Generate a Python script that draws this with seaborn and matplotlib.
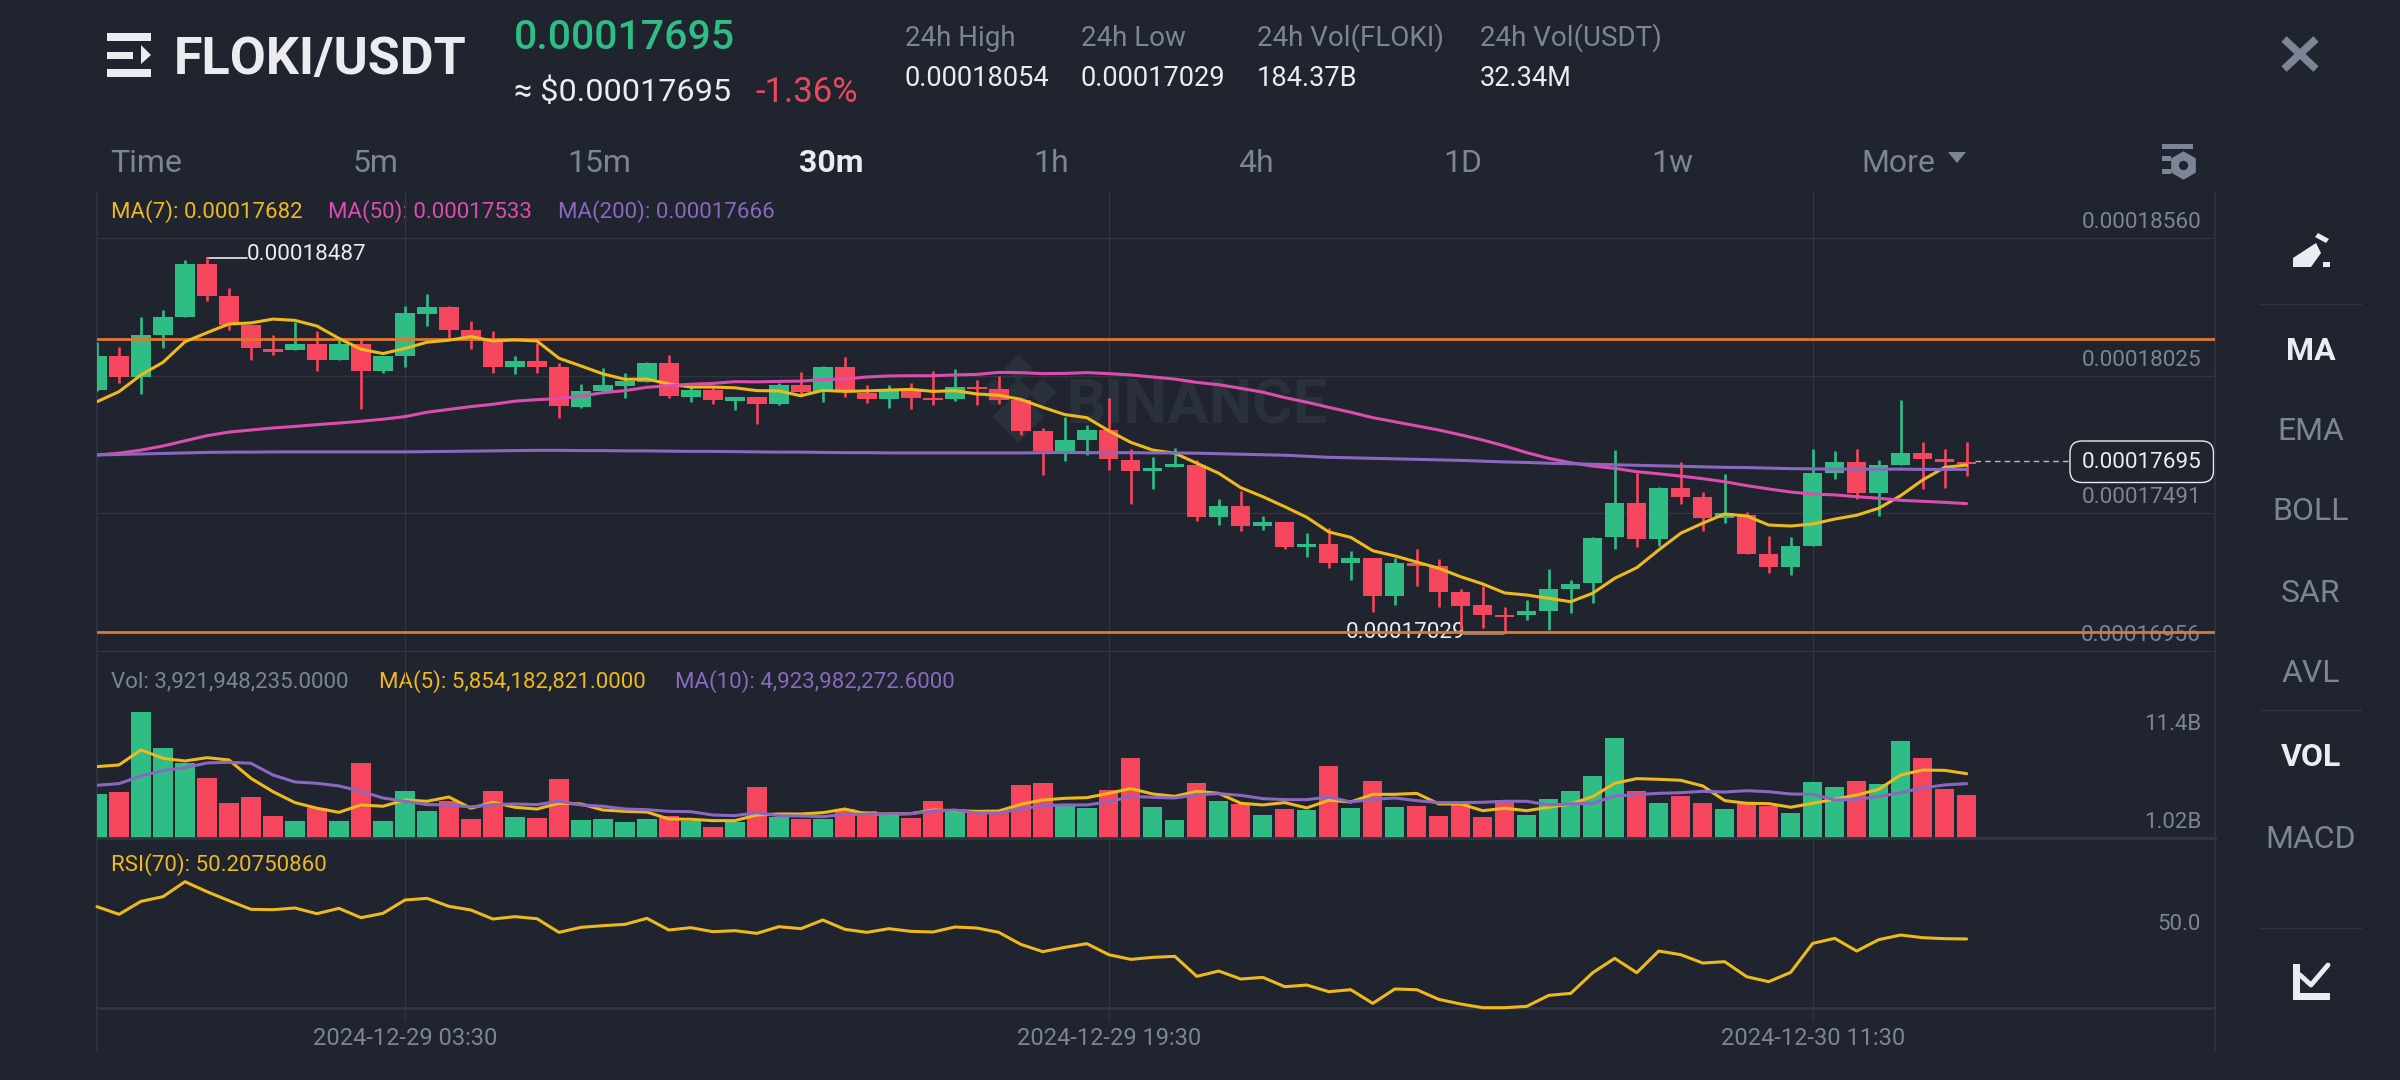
import numpy as np
import matplotlib
matplotlib.use("Agg")
import matplotlib.pyplot as plt
import seaborn as sns
from matplotlib.patches import Polygon, FancyBboxPatch

# prices are kept in units of 1e-8 USDT, volumes in billions
candle_open = [17969,18102,18021,18183,18253,18458,18335,18223,18130,18126,18148,18086,18148,18043,18103,18266,18293,18201,18168,18059,18083,18060,17905,17966,17986,18001,18074,17943,17968,17928,17942,17914,17988,17967,18058,17957,17934,17969,17940,17933,17982,17972,17931,17810,17734,17776,17815,17699,17654,17672,17678,17475,17519,17440,17456,17358,17371,17299,17316,17170,17296,17286,17184,17133,17095,17094,17112,17196,17218,17397,17529,17391,17588,17555,17473,17484,17331,17282,17365,17646,17690,17568,17678,17724,17700,17691]
candle_high = [18157,18138,18254,18280,18474,18487,18365,18223,18183,18235,18200,18164,18170,18103,18296,18341,18297,18238,18200,18100,18153,18073,17992,18056,18034,18077,18105,17982,17985,17942,17943,17995,18038,18063,18098,17989,17988,17995,18044,18050,18008,18025,17940,17822,17866,17832,17937,17739,17710,17743,17698,17546,17578,17480,17458,17413,17432,17345,17316,17316,17351,17313,17196,17208,17125,17154,17273,17231,17400,17736,17646,17591,17689,17572,17642,17497,17403,17397,17740,17734,17739,17698,17931,17766,17740,17767]
candle_low = [17966,17998,17954,18131,18253,18315,18203,18086,18105,18126,18043,18086,17896,18037,18060,18219,18170,18130,18034,18033,18034,17859,17901,17966,17938,18001,17940,17923,17916,17892,17837,17910,17946,17924,17941,17918,17901,17897,17911,17927,17911,17916,17796,17639,17694,17716,17660,17527,17586,17672,17462,17444,17422,17424,17353,17322,17279,17231,17108,17133,17208,17128,17037,17046,17029,17076,17037,17102,17143,17352,17361,17363,17527,17423,17454,17332,17260,17251,17365,17624,17545,17480,17678,17586,17590,17635]
candle_close = [18102,18019,18183,18253,18458,18335,18223,18131,18117,18149,18085,18148,18043,18103,18267,18292,18203,18175,18059,18083,18060,17907,17964,17988,18004,18073,17945,17968,17929,17942,17914,17988,17963,18058,17964,17933,17967,17940,17931,17980,17972,17931,17811,17734,17775,17814,17700,17655,17668,17681,17475,17519,17440,17458,17361,17372,17299,17317,17170,17296,17286,17184,17132,17095,17086,17110,17196,17217,17396,17529,17391,17588,17555,17473,17492,17332,17282,17365,17646,17690,17568,17678,17725,17700,17690,17682]

ma7 = [17924,17963,18028,18077,18157,18192,18226,18230,18245,18240,18218,18170,18128,18111,18131,18155,18163,18177,18160,18164,18160,18093,18063,18032,18011,18012,17993,17981,17981,17978,17967,17966,17947,17968,17964,17966,17969,17972,17964,17967,17954,17949,17933,17902,17874,17862,17811,17766,17736,17724,17685,17646,17590,17555,17516,17475,17418,17397,17345,17325,17301,17277,17244,17216,17181,17173,17160,17147,17180,17238,17279,17348,17413,17452,17488,17480,17445,17441,17449,17468,17483,17510,17559,17620,17669,17678]
ma50 = [17717,17724,17736,17752,17772,17792,17806,17814,17822,17828,17835,17841,17848,17856,17866,17883,17894,17905,17914,17926,17932,17936,17946,17959,17967,17980,17986,17992,17995,18002,18001,18003,18004,18010,18012,18020,18024,18025,18025,18028,18030,18038,18037,18033,18034,18037,18033,18028,18020,18012,17999,17990,17976,17961,17940,17922,17902,17883,17862,17846,17830,17814,17795,17775,17752,17726,17704,17687,17674,17665,17652,17644,17635,17625,17613,17598,17585,17573,17565,17562,17555,17549,17541,17537,17533,17528]
ma200 = [17717,17719,17721,17723,17725,17727,17728,17728,17729,17729,17729,17729,17729,17729,17729,17730,17731,17732,17733,17734,17735,17735,17734,17734,17733,17733,17732,17731,17731,17730,17729,17728,17728,17727,17726,17726,17725,17725,17725,17725,17725,17725,17725,17726,17727,17726,17726,17726,17725,17725,17724,17722,17720,17718,17716,17712,17708,17706,17704,17702,17700,17698,17696,17693,17690,17688,17685,17683,17681,17679,17677,17675,17673,17671,17669,17668,17666,17664,17663,17662,17662,17662,17662,17661,17661,17661]

volume = [3.98,4.19,11.46,8.21,6.79,5.46,3.17,3.74,2.05,1.57,2.78,1.57,6.79,1.57,4.31,2.47,3.35,1.75,4.25,1.93,1.81,5.40,1.66,1.72,1.48,1.75,1.99,1.60,1.06,1.45,4.68,1.96,1.75,1.78,2.69,2.47,2.11,1.87,3.35,2.41,2.26,2.26,4.86,4.98,2.93,2.72,4.34,7.24,2.84,1.69,5.01,3.35,3.08,2.08,2.62,2.59,6.58,2.72,5.16,2.84,2.93,2.02,3.17,1.96,3.47,2.08,3.56,4.25,5.64,9.05,4.25,3.17,3.83,3.17,2.62,3.08,2.90,2.32,5.07,4.65,5.19,4.95,8.78,7.24,4.50,3.92]
vol_ma5 = [6.49,6.64,8.00,7.24,7.00,7.30,7.09,5.43,4.22,3.23,2.72,2.35,3.02,2.90,3.47,3.35,3.74,2.72,3.26,2.81,2.65,3.17,3.11,2.56,2.44,2.38,1.75,1.72,1.60,1.60,2.11,2.20,2.20,2.32,2.65,2.20,2.20,2.23,2.56,2.50,2.44,2.47,3.08,3.47,3.62,3.68,4.07,4.50,4.01,3.80,4.25,4.07,3.17,3.02,3.23,2.75,3.44,3.29,3.98,3.98,4.07,3.11,3.11,2.50,2.72,2.50,2.81,3.11,3.77,4.98,5.40,5.34,5.25,4.74,3.41,3.17,3.14,2.81,3.17,3.53,3.92,4.43,5.73,6.18,6.15,5.85]
vol_ma10 = [4.80,4.95,5.64,6.12,6.40,6.82,6.88,6.79,5.73,5.10,4.98,4.74,4.25,3.65,3.35,3.05,3.02,2.84,3.05,3.11,3.05,3.35,3.02,2.90,2.65,2.59,2.44,2.41,2.11,2.05,2.32,2.05,2.02,1.96,2.17,2.17,2.20,2.23,2.47,2.56,2.29,2.29,2.65,2.96,3.02,3.02,3.29,3.80,3.71,3.65,3.95,4.04,3.89,3.59,3.50,3.50,3.74,3.29,3.53,3.65,3.41,3.23,3.23,3.26,3.35,3.35,3.02,3.11,3.17,3.83,3.95,4.07,4.13,4.25,4.19,4.31,4.22,4.01,3.98,3.47,3.53,3.77,4.13,4.56,4.83,4.95]

rsi = [55.05,53.90,55.85,56.55,58.80,57.30,55.95,54.65,54.60,54.85,54.00,54.80,53.40,54.05,56.05,56.30,55.10,54.55,53.20,53.55,53.25,51.20,51.95,52.20,52.40,53.30,51.55,51.90,51.30,51.45,51.05,52.05,51.75,53.05,51.65,51.20,51.75,51.35,51.25,52.00,51.85,51.20,49.40,48.30,48.95,49.50,47.85,47.15,47.45,47.60,44.60,45.40,44.20,44.45,43.05,43.30,42.30,42.60,40.55,42.70,42.60,41.15,40.45,39.90,39.90,40.10,41.75,42.05,45.15,47.30,45.15,48.40,47.85,46.60,46.80,44.55,43.80,45.20,49.55,50.30,48.40,50.10,50.80,50.40,50.25,50.21]

price_ticks = [18560, 18025, 17491, 16956]
level_lines = [18168, 17029]
last_price = 17695
date_idx = [14, 46, 78]
date_labels = ["2024-12-29 03:30", "2024-12-29 19:30", "2024-12-30 11:30"]
timeframes = ["Time", "5m", "15m", "30m", "1h", "4h", "1D", "1w"]
timeframe_x = [110, 376, 599, 831, 1051, 1256, 1463, 1672]
side_labels = ["MA", "EMA", "BOLL", "SAR", "AVL", "VOL", "MACD"]
side_y = [351, 431, 512, 593, 674, 757, 839]

BG = "#1F242F"
GRID = "#2F3641"
GREEN = "#2EBD85"
RED = "#F6465D"
YELLOW = "#EDB91C"
MAGENTA = "#DC4DB0"
PURPLE = "#8A68C0"
ORANGE = "#E0772F"
GREY = "#7C8596"
WHITE = "#EAECEF"
W, H = 2400, 1080

sns.set_theme(style="dark", rc={"figure.facecolor": BG, "axes.facecolor": "none"})
plt.rcParams["font.family"] = ["Roboto", "DejaVu Sans"]

fig = plt.figure(figsize=(24, 10.8), dpi=100)
idx = np.arange(len(candle_close))
xlim = (0, 96.29)


def panel(top, bottom, z):
    ax = fig.add_axes([97 / W, 1 - bottom / H, 2118 / W, (bottom - top) / H], zorder=z)
    ax.set_xlim(*xlim)
    ax.set_facecolor("none")
    for s in ax.spines.values():
        s.set_visible(False)
    ax.set_xticks([])
    ax.set_yticks([])
    return ax


def line(ax, y, color, lw=2.2, clip=True):
    sns.lineplot(x=idx, y=y, ax=ax, color=color, linewidth=lw, errorbar=None, clip_on=clip, zorder=5)
    ax.set_xlabel("")
    ax.set_ylabel("")


# chrome layer, pixel coordinates
ui = fig.add_axes([0, 0, 1, 1], zorder=0)
ui.set_xlim(0, W)
ui.set_ylim(H, 0)
ui.set_axis_off()


def put(x, y, s, color=GREY, size=16, ha="left", weight="normal"):
    ui.text(x, y, s, color=color, fontsize=size, ha=ha, va="center", fontweight=weight)


# header
for y0, y1, x1 in [(33, 41, 151), (52, 59, 133), (69, 77, 151)]:
    ui.fill([107, x1, x1, 107], [y0, y0, y1, y1], color=WHITE, lw=0)
ui.add_patch(Polygon([[141, 45], [151, 55], [141, 64]], color=WHITE, lw=0))
put(174, 60, "FLOKI/USDT", WHITE, 37.5, weight="bold")
put(514, 38, "0.00017695", GREEN, 29.5, weight="medium")
put(514, 92, "≈ $0.00017695", WHITE, 23.3)
put(755, 92, "-1.36%", "#E8495F", 25)
for x, lab, val in zip([905, 1081, 1257, 1480],
                       ["24h High", "24h Low", "24h Vol(FLOKI)", "24h Vol(USDT)"],
                       ["0.00018054", "0.00017029", "184.37B", "32.34M"]):
    put(x, 38, lab, GREY, 20)
    put(x, 78, val, WHITE, 19.6)

for x, lab in zip(timeframe_x, timeframes):
    active = lab == "30m"
    put(x, 163, lab, WHITE if active else GREY, 23, ha="left" if lab == "Time" else "center",
        weight="bold" if active else "normal")
put(1861, 163, "More", GREY, 23)
ui.add_patch(Polygon([[1948, 152], [1966, 152], [1957, 163]], color=GREY, lw=0))
ui.fill([2162, 2193, 2193, 2162], [144, 144, 149, 149], color=GREY, lw=0)
ui.fill([2162, 2171, 2171, 2162], [156, 156, 161, 161], color=GREY, lw=0)
ui.fill([2162, 2171, 2171, 2162], [169, 169, 174, 174], color=GREY, lw=0)
ui.scatter([2183], [165], marker="h", s=420, color=GREY, lw=0)
ui.scatter([2183], [165], marker="o", s=45, color=BG, lw=0, zorder=3)

# close button and sidebar
ui.plot([2284, 2316], [39, 69], color=GREY, lw=5.5, solid_capstyle="butt")
ui.plot([2284, 2316], [69, 39], color=GREY, lw=5.5, solid_capstyle="butt")
ui.add_patch(Polygon([[2293, 267], [2293, 258], [2316, 243], [2321, 253], [2311, 267]], color=WHITE, lw=0))
ui.add_patch(Polygon([[2318, 233], [2329, 239], [2326, 243], [2315, 237]], color=WHITE, lw=0))
ui.fill([2323, 2330, 2330, 2323], [262, 262, 267, 267], color=WHITE, lw=0)
for y in [303.6, 710, 927.6]:
    ui.plot([2261, 2361], [y, y], color=GRID, lw=1)
for lab, y in zip(side_labels, side_y):
    active = lab in ("MA", "VOL")
    put(2311, y, lab, WHITE if active else GREY, 23, ha="center", weight="bold" if active else "normal")
ui.fill([2293, 2330, 2330, 2293], [993, 993, 1000, 1000], color=WHITE, lw=0)
ui.fill([2293, 2300, 2300, 2293], [964, 964, 1000, 1000], color=WHITE, lw=0)
ui.plot([2300, 2311, 2328], [975, 985, 965], color=WHITE, lw=3.5)

# frame lines and watermark
ui.plot([97, 97], [192, 1052], color=GRID, lw=1.2)
ui.plot([2215, 2215], [192, 1052], color=GRID, lw=1.2)
ui.scatter([1018, 994, 1042, 1018], [392, 392, 392, 368], marker="D", s=200, color="#2A303C", lw=0)
ui.scatter([1018], [416], marker="D", s=700, color="#2A303C", lw=0)
put(1066, 406, "BINANCE", "#2A303C", 44.5, weight="bold")

# indicator captions
put(111, 212, "MA(7): 0.00017682", YELLOW)
put(328, 212, "MA(50): 0.00017533", MAGENTA)
put(558, 212, "MA(200): 0.00017666", PURPLE)
put(111, 682, "Vol: 3,921,948,235.0000", GREY)
put(379, 682, "MA(5): 5,854,182,821.0000", YELLOW)
put(675, 682, "MA(10): 4,923,982,272.6000", PURPLE)
put(111, 865, "RSI(70): 50.20750860", YELLOW)
put(2201, 725, "11.4B", GREY, 16, ha="right")
put(2201, 822, "1.02B", GREY, 16, ha="right")
put(2201, 925, "50.0", GREY, 16, ha="right")

# high and low markers
ui.plot([207, 247], [257.7, 257.7], color=WHITE, lw=1.2)
put(247, 255, "0.00018487", WHITE, 16.2)
ui.plot([1463, 1504], [634, 634], color="#8A8F99", lw=1.2)
put(1346, 633, "0.00017029", WHITE, 16.2)

# current price pill
ui.add_patch(FancyBboxPatch((2070, 441), 143.5, 41.5, boxstyle="round,pad=0,rounding_size=12",
                            fc=BG, ec=WHITE, lw=1))
put(2142, 463, "0.00017695", WHITE, 16.2, ha="center")

# vertical grid and date labels
frame = panel(192, 1022, 1)
frame.set_xticks(date_idx, date_labels)
frame.set_ylim(0, 1)
frame.tick_params(axis="x", length=0, pad=3.5, labelcolor=GREY, labelsize=17)
frame.xaxis.grid(True, color=GRID, lw=1)

# price panel
ax_price = panel(192, 652, 2)
ax_price.set_ylim(16951.6, 18738.7)
ax_price.set_yticks(price_ticks)
ax_price.tick_params(axis="y", length=0, labelleft=False)
ax_price.yaxis.grid(True, color=GRID, lw=1)
ax_price.set_axisbelow(True)
for p in price_ticks:
    ax_price.annotate(f"{p / 1e8:.8f}", xy=(0.9934, p), xycoords=("axes fraction", "data"), xytext=(0, 11),
                      textcoords="offset points", ha="right", va="center", color=GREY, fontsize=16.2,
                      zorder=1)

o = np.array(candle_open)
c = np.array(candle_close)
up = c >= o
colors = np.where(up, GREEN, RED)
ax_price.vlines(idx, candle_low, candle_high, colors=colors, lw=1.9, zorder=3)
ax_price.bar(idx, np.abs(c - o), bottom=np.minimum(o, c), width=0.88, color=colors, lw=0, zorder=3)
for lev in level_lines:
    ax_price.axhline(lev, color=ORANGE, lw=2, zorder=4)
line(ax_price, ma7, YELLOW)
line(ax_price, ma50, MAGENTA)
line(ax_price, ma200, PURPLE)
ax_price.set_xlim(*xlim)
ax_price.plot([85.4, 89.7], [last_price, last_price], color="#B8BCC4", lw=1, ls=(0, (4, 3)), zorder=6)

# volume panel
ax_vol = panel(660, 838.3, 2)
direction = np.where(up, "up", "down")
sns.barplot(x=idx, y=volume, hue=direction, hue_order=["up", "down"], palette={"up": GREEN, "down": RED},
            native_scale=True, dodge=False, width=0.88, saturation=1, errorbar=None, legend=False, ax=ax_vol,
            linewidth=0)
line(ax_vol, vol_ma5, YELLOW)
line(ax_vol, vol_ma10, PURPLE)
ax_vol.set_xlim(*xlim)
ax_vol.set_ylim(0, 16.14)
ax_vol.set_xticks([])
ax_vol.set_yticks([])
ax_vol.spines["bottom"].set_visible(True)
ax_vol.spines["bottom"].set_color(GRID)
ax_vol.spines["bottom"].set_linewidth(2)

# RSI panel
ax_rsi = panel(840, 1007.7, 2)
line(ax_rsi, rsi, YELLOW, clip=False)
ax_rsi.set_xlim(*xlim)
ax_rsi.set_ylim(39.9, 65.05)
ax_rsi.set_xticks([])
ax_rsi.set_yticks([])
ax_rsi.spines["bottom"].set_visible(True)
ax_rsi.spines["bottom"].set_color(GRID)
ax_rsi.spines["bottom"].set_linewidth(2)

fig.savefig("out.png", dpi=100, facecolor=BG)
